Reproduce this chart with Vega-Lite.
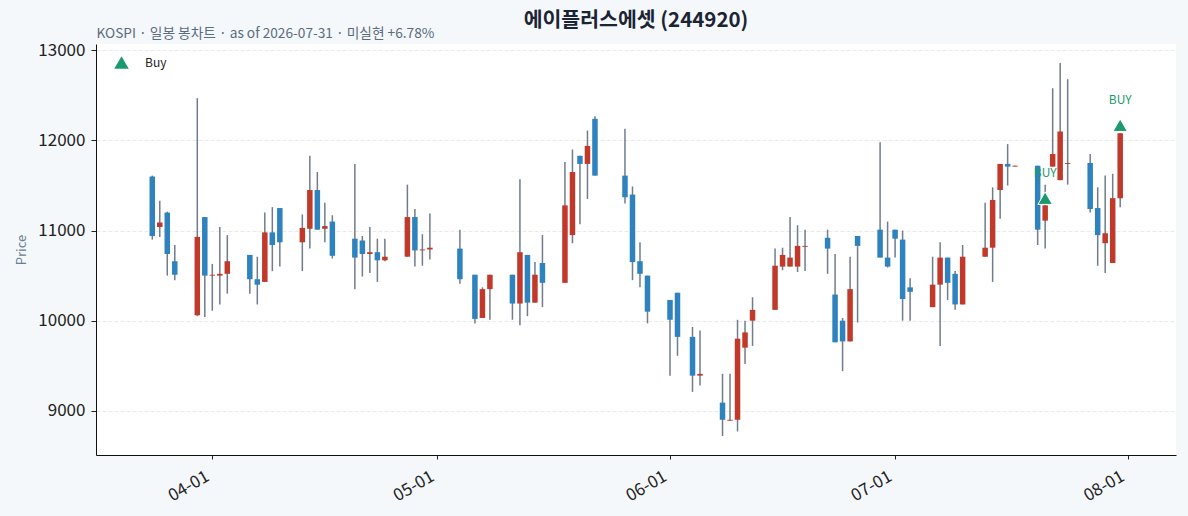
{
  "$schema": "https://vega.github.io/schema/vega-lite/v6.json",
  "description": "에이플러스에셋 daily candlestick chart with buy signals",
  "width": 1080,
  "height": 411,
  "autosize": "none",
  "padding": {"left": 96, "top": 44, "right": 12, "bottom": 61},
  "background": "#f5f8fb",
  "title": {
    "text": "에이플러스에셋 (244920)",
    "fontSize": 20.5,
    "fontWeight": "bold",
    "color": "#1b2433",
    "anchor": "middle",
    "frame": "group",
    "offset": 0,
    "dy": 5
  },
  "datasets": {
    "candles": [
      {"date": "2026-03-24", "open": 11600, "high": 11610, "low": 10900, "close": 10940},
      {"date": "2026-03-25", "open": 11040, "high": 11330, "low": 10930, "close": 11090},
      {"date": "2026-03-26", "open": 11200, "high": 11210, "low": 10500, "close": 10740},
      {"date": "2026-03-27", "open": 10660, "high": 10840, "low": 10450, "close": 10510},
      {"date": "2026-03-30", "open": 10060, "high": 12470, "low": 10050, "close": 10930},
      {"date": "2026-03-31", "open": 11150, "high": 11150, "low": 10040, "close": 10500},
      {"date": "2026-04-01", "open": 10500, "high": 10630, "low": 10110, "close": 10510},
      {"date": "2026-04-02", "open": 10500, "high": 11040, "low": 10180, "close": 10520},
      {"date": "2026-04-03", "open": 10520, "high": 10950, "low": 10300, "close": 10660},
      {"date": "2026-04-06", "open": 10730, "high": 10730, "low": 10300, "close": 10460},
      {"date": "2026-04-07", "open": 10460, "high": 10710, "low": 10180, "close": 10400},
      {"date": "2026-04-08", "open": 10430, "high": 11200, "low": 10430, "close": 10980},
      {"date": "2026-04-09", "open": 10980, "high": 11260, "low": 10550, "close": 10840},
      {"date": "2026-04-10", "open": 11250, "high": 11250, "low": 10600, "close": 10870},
      {"date": "2026-04-13", "open": 10870, "high": 11180, "low": 10550, "close": 11030},
      {"date": "2026-04-14", "open": 11020, "high": 11830, "low": 10800, "close": 11450},
      {"date": "2026-04-15", "open": 11450, "high": 11650, "low": 11010, "close": 11010},
      {"date": "2026-04-16", "open": 11020, "high": 11310, "low": 10870, "close": 11050},
      {"date": "2026-04-17", "open": 11100, "high": 11170, "low": 10690, "close": 10720},
      {"date": "2026-04-20", "open": 10910, "high": 11740, "low": 10350, "close": 10700},
      {"date": "2026-04-21", "open": 10890, "high": 10940, "low": 10490, "close": 10740},
      {"date": "2026-04-22", "open": 10740, "high": 11040, "low": 10530, "close": 10760},
      {"date": "2026-04-23", "open": 10760, "high": 10910, "low": 10430, "close": 10670},
      {"date": "2026-04-24", "open": 10670, "high": 10910, "low": 10660, "close": 10710},
      {"date": "2026-04-27", "open": 10710, "high": 11510, "low": 10710, "close": 11150},
      {"date": "2026-04-28", "open": 11150, "high": 11240, "low": 10600, "close": 10780},
      {"date": "2026-04-29", "open": 10780, "high": 10960, "low": 10610, "close": 10790},
      {"date": "2026-04-30", "open": 10790, "high": 11190, "low": 10680, "close": 10810},
      {"date": "2026-05-04", "open": 10800, "high": 11010, "low": 10410, "close": 10460},
      {"date": "2026-05-06", "open": 10510, "high": 10510, "low": 9970, "close": 10020},
      {"date": "2026-05-07", "open": 10030, "high": 10370, "low": 10030, "close": 10350},
      {"date": "2026-05-08", "open": 10350, "high": 10510, "low": 10010, "close": 10510},
      {"date": "2026-05-11", "open": 10510, "high": 10510, "low": 10010, "close": 10190},
      {"date": "2026-05-12", "open": 10190, "high": 11570, "low": 9950, "close": 10760},
      {"date": "2026-05-13", "open": 10730, "high": 10730, "low": 10050, "close": 10200},
      {"date": "2026-05-14", "open": 10200, "high": 10650, "low": 10200, "close": 10510},
      {"date": "2026-05-15", "open": 10640, "high": 10950, "low": 10150, "close": 10420},
      {"date": "2026-05-18", "open": 10420, "high": 11760, "low": 10420, "close": 11280},
      {"date": "2026-05-19", "open": 10950, "high": 11900, "low": 10860, "close": 11650},
      {"date": "2026-05-20", "open": 11830, "high": 11830, "low": 11070, "close": 11740},
      {"date": "2026-05-21", "open": 11740, "high": 12110, "low": 11350, "close": 11940},
      {"date": "2026-05-22", "open": 12240, "high": 12270, "low": 11610, "close": 11610},
      {"date": "2026-05-26", "open": 11610, "high": 12130, "low": 11300, "close": 11370},
      {"date": "2026-05-27", "open": 11400, "high": 11490, "low": 10450, "close": 10650},
      {"date": "2026-05-28", "open": 10660, "high": 10870, "low": 10370, "close": 10520},
      {"date": "2026-05-29", "open": 10500, "high": 10500, "low": 9970, "close": 10100},
      {"date": "2026-06-01", "open": 10230, "high": 10230, "low": 9390, "close": 10010},
      {"date": "2026-06-02", "open": 10310, "high": 10310, "low": 9610, "close": 9820},
      {"date": "2026-06-04", "open": 9820, "high": 9930, "low": 9210, "close": 9390},
      {"date": "2026-06-05", "open": 9390, "high": 9890, "low": 9280, "close": 9410},
      {"date": "2026-06-08", "open": 9090, "high": 9410, "low": 8720, "close": 8900},
      {"date": "2026-06-09", "open": 8890, "high": 9410, "low": 8890, "close": 8900},
      {"date": "2026-06-10", "open": 8900, "high": 10010, "low": 8770, "close": 9800},
      {"date": "2026-06-11", "open": 9700, "high": 10000, "low": 9520, "close": 9870},
      {"date": "2026-06-12", "open": 10000, "high": 10260, "low": 9720, "close": 10120},
      {"date": "2026-06-15", "open": 10120, "high": 10800, "low": 10120, "close": 10610},
      {"date": "2026-06-16", "open": 10600, "high": 10810, "low": 10560, "close": 10730},
      {"date": "2026-06-17", "open": 10600, "high": 11150, "low": 10600, "close": 10700},
      {"date": "2026-06-18", "open": 10600, "high": 11060, "low": 10540, "close": 10830},
      {"date": "2026-06-19", "open": 10820, "high": 11010, "low": 10550, "close": 10830},
      {"date": "2026-06-22", "open": 10920, "high": 11010, "low": 10520, "close": 10800},
      {"date": "2026-06-23", "open": 10290, "high": 10740, "low": 9760, "close": 9760},
      {"date": "2026-06-24", "open": 10000, "high": 10030, "low": 9440, "close": 9770},
      {"date": "2026-06-25", "open": 9770, "high": 10710, "low": 9770, "close": 10350},
      {"date": "2026-06-26", "open": 10940, "high": 10940, "low": 9980, "close": 10830},
      {"date": "2026-06-29", "open": 11010, "high": 11980, "low": 10700, "close": 10700},
      {"date": "2026-06-30", "open": 10700, "high": 11100, "low": 10590, "close": 10600},
      {"date": "2026-07-01", "open": 11010, "high": 11010, "low": 10700, "close": 10910},
      {"date": "2026-07-02", "open": 10900, "high": 11000, "low": 10000, "close": 10240},
      {"date": "2026-07-03", "open": 10370, "high": 10470, "low": 10000, "close": 10320},
      {"date": "2026-07-06", "open": 10150, "high": 10710, "low": 10150, "close": 10400},
      {"date": "2026-07-07", "open": 10400, "high": 10870, "low": 9720, "close": 10700},
      {"date": "2026-07-08", "open": 10700, "high": 10700, "low": 10230, "close": 10420},
      {"date": "2026-07-09", "open": 10520, "high": 10550, "low": 10120, "close": 10180},
      {"date": "2026-07-10", "open": 10180, "high": 10840, "low": 10180, "close": 10710},
      {"date": "2026-07-13", "open": 10710, "high": 11310, "low": 10710, "close": 10810},
      {"date": "2026-07-14", "open": 10810, "high": 11480, "low": 10430, "close": 11340},
      {"date": "2026-07-15", "open": 11450, "high": 11740, "low": 11130, "close": 11740},
      {"date": "2026-07-16", "open": 11740, "high": 11960, "low": 11500, "close": 11710},
      {"date": "2026-07-17", "open": 11710, "high": 11720, "low": 11710, "close": 11720},
      {"date": "2026-07-20", "open": 11720, "high": 11720, "low": 10840, "close": 11010},
      {"date": "2026-07-21", "open": 11110, "high": 11510, "low": 10800, "close": 11280},
      {"date": "2026-07-22", "open": 11710, "high": 12580, "low": 11710, "close": 11850},
      {"date": "2026-07-23", "open": 11560, "high": 12860, "low": 11560, "close": 12100},
      {"date": "2026-07-24", "open": 11740, "high": 12680, "low": 11510, "close": 11750},
      {"date": "2026-07-27", "open": 11750, "high": 11850, "low": 11200, "close": 11240},
      {"date": "2026-07-28", "open": 11250, "high": 11480, "low": 10610, "close": 10950},
      {"date": "2026-07-29", "open": 10860, "high": 11610, "low": 10530, "close": 10970},
      {"date": "2026-07-30", "open": 10640, "high": 11630, "low": 10640, "close": 11360},
      {"date": "2026-07-31", "open": 11360, "high": 12080, "low": 11260, "close": 12080}
    ],
    "buys": [
      {"date": "2026-07-21", "price": 11360, "signal": "Buy"},
      {"date": "2026-07-31", "price": 12170, "signal": "Buy"}
    ]
  },
  "layer": [
    {
      "data": {"name": "candles"},
      "mark": {"type": "rule", "color": "#707c8c", "strokeWidth": 1.5},
      "encoding": {
        "x": {
          "field": "date",
          "type": "temporal",
          "scale": {"type": "utc", "domain": [1773720000000, 1786041000000]},
          "axis": {
            "orient": "bottom",
            "title": null,
            "values": [
              {"year": 2026, "month": 4, "date": 1, "utc": true},
              {"year": 2026, "month": 5, "date": 1, "utc": true},
              {"year": 2026, "month": 6, "date": 1, "utc": true},
              {"year": 2026, "month": 7, "date": 1, "utc": true},
              {"year": 2026, "month": 8, "date": 1, "utc": true}
            ],
            "format": "%m-%d",
            "labelAngle": -30,
            "labelAlign": "right",
            "labelBaseline": "middle",
            "labelPadding": 16,
            "labelOffset": -5,
            "labelFontSize": 17,
            "labelColor": "#222222",
            "labelOverlap": false,
            "labelBound": false,
            "labelFlush": false,
            "tickSize": 4,
            "tickColor": "#222222",
            "domainColor": "#111111",
            "grid": false
          }
        },
        "y": {
          "field": "low",
          "type": "quantitative",
          "scale": {"domain": [8509, 13071], "nice": false, "zero": false},
          "axis": {
            "title": "Price",
            "titleFontSize": 13,
            "titleFontWeight": "normal",
            "titleColor": "#6b7d92",
            "titlePadding": 9,
            "values": [9000, 10000, 11000, 12000, 13000],
            "format": "d",
            "labelFontSize": 17,
            "labelColor": "#222222",
            "labelPadding": 6,
            "tickSize": 5,
            "tickColor": "#222222",
            "domainColor": "#111111",
            "grid": true,
            "gridColor": "#e4e4e4",
            "gridDash": [4, 2],
            "gridWidth": 0.8
          }
        },
        "y2": {"field": "high"}
      }
    },
    {
      "data": {"name": "candles"},
      "mark": {"type": "bar", "size": 5.5},
      "encoding": {
        "x": {"field": "date", "type": "temporal", "axis": null},
        "y": {"field": "open", "type": "quantitative"},
        "y2": {"field": "close"},
        "color": {
          "condition": {"test": "datum.close >= datum.open", "value": "#c0392b"},
          "value": "#2e82bd"
        }
      }
    },
    {
      "data": {"name": "buys"},
      "mark": {"type": "point", "filled": true, "size": 210, "stroke": "white", "strokeWidth": 1, "opacity": 1},
      "encoding": {
        "x": {
          "field": "date",
          "type": "temporal",
          "axis": {
            "orient": "top",
            "title": "KOSPI · 일봉 봉차트 · as of 2026-07-31 · 미실현 +6.78%",
            "titleAnchor": "start",
            "titleAlign": "left",
            "titleFontSize": 13.7,
            "titleFontWeight": "normal",
            "titleColor": "#5b6b80",
            "titlePadding": 4,
            "labels": false,
            "ticks": false,
            "domain": false,
            "grid": false
          }
        },
        "y": {"field": "price", "type": "quantitative"},
        "color": {"value": "#1b9a6c"},
        "shape": {
          "field": "signal",
          "type": "nominal",
          "scale": {"range": ["triangle-up"]},
          "legend": {
            "title": null,
            "orient": "none",
            "legendX": 18,
            "legendY": 11,
            "padding": 0,
            "labelFontSize": 12,
            "labelColor": "#222222",
            "labelOffset": 16,
            "symbolSize": 210,
            "symbolFillColor": "#1b9a6c",
            "symbolStrokeWidth": 0
          }
        }
      }
    },
    {
      "data": {"name": "buys"},
      "mark": {"type": "text", "dy": -25, "fontSize": 12, "color": "#1b9a6c", "align": "center"},
      "encoding": {
        "x": {"field": "date", "type": "temporal", "axis": null},
        "y": {"field": "price", "type": "quantitative"},
        "text": {"value": "BUY"}
      }
    }
  ],
  "config": {
    "font": "Noto Sans CJK KR",
    "view": {"stroke": null, "fill": "#ffffff"}
  }
}
